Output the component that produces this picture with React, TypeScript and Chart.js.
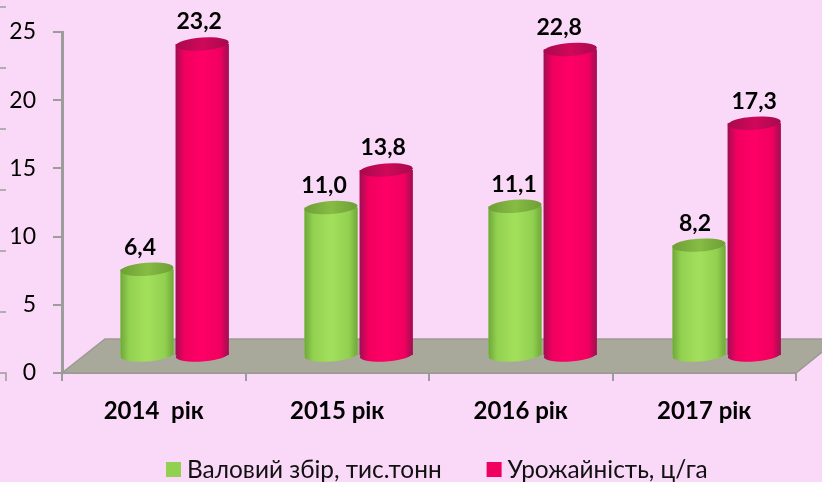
import React, { useEffect, useRef } from "react";
import { Chart, registerables } from "chart.js";

Chart.register(...registerables);

const categories = ["2014  рік", "2015 рік", "2016 рік", "2017 рік"];
const grossHarvest = [6.4, 11.0, 11.1, 8.2];
const yieldPerHa = [23.2, 13.8, 22.8, 17.3];
const seriesNames = ["Валовий збір, тис.тонн", "Урожайність, ц/га"];

const FONT = "Lato, 'Open Sans', sans-serif";
const BG = "#F9D9F7";
const AXIS = "#9C9C9C";

type Shade = { dark: string; mid: string; light: string; cap: string; capDark: string };
const GREEN: Shade = { dark: "#6FA83A", mid: "#92D050", light: "#A2E05C", cap: "#86BC44", capDark: "#6F9E36" };
const RED: Shade = { dark: "#9E0F52", mid: "#F0005F", light: "#FF0066", cap: "#D0085A", capDark: "#A80A4E" };
const shades = [GREEN, RED];

const RY = 6.5;
const TILT = -0.07;
const LABEL_DX = [
  [-7, -7, -1, -4],
  [-3, -3, -11, 0],
];

const bodyGradient = (ctx: any, x: number, w: number, s: Shade) => {
  const g = ctx.createLinearGradient(x - w / 2, 0, x + w / 2, 0);
  g.addColorStop(0, s.dark);
  g.addColorStop(0.16, s.mid);
  g.addColorStop(0.5, s.light);
  g.addColorStop(0.84, s.mid);
  g.addColorStop(1, s.dark);
  return g;
};

const scene = {
  id: "scene",
  beforeDatasetsDraw(chart: any) {
    const { ctx } = chart;
    const xs = chart.scales.x;
    const y0 = chart.scales.y.getPixelForValue(0);
    const back = 34;
    ctx.save();
    ctx.fillStyle = "#A9A99B";
    ctx.strokeStyle = "#9A9A92";
    ctx.lineWidth = 1.5;
    ctx.beginPath();
    ctx.moveTo(xs.left, y0);
    ctx.lineTo(xs.right, y0);
    ctx.lineTo(xs.right + 42, y0 - back);
    ctx.lineTo(xs.left + 43, y0 - back);
    ctx.closePath();
    ctx.fill();
    ctx.stroke();
    // leftover tick marks at the far left edge of the picture
    ctx.strokeStyle = AXIS;
    ctx.lineWidth = 1.5;
    for (let i = 0; i <= 6; i++) {
      const yy = y0 - i * 61;
      ctx.beginPath();
      ctx.moveTo(0, yy);
      ctx.lineTo(6, yy);
      if (i === 0) ctx.lineTo(6, yy + 8);
      ctx.stroke();
    }
    ctx.restore();
  },
  afterDatasetDraw(chart: any, args: any) {
    const { ctx } = chart;
    const meta = chart.getDatasetMeta(args.index);
    const s = shades[args.index];
    meta.data.forEach((bar: any) => {
      const p = bar.getProps(["x", "y", "base", "width"], true);
      ctx.save();
      ctx.fillStyle = bodyGradient(ctx, p.x, p.width, s);
      ctx.beginPath();
      ctx.ellipse(p.x, p.base, p.width / 2, RY, TILT, 0, Math.PI * 2);
      ctx.fill();
      ctx.fillRect(p.x - p.width / 2, p.y, p.width, p.base - p.y);
      ctx.beginPath();
      ctx.ellipse(p.x, p.y, p.width / 2, RY, TILT, 0, Math.PI);
      ctx.fill();
      const c = ctx.createLinearGradient(p.x - p.width / 2, 0, p.x + p.width / 2, 0);
      c.addColorStop(0, s.capDark);
      c.addColorStop(0.5, s.cap);
      c.addColorStop(1, s.capDark);
      ctx.fillStyle = c;
      ctx.beginPath();
      ctx.ellipse(p.x, p.y, p.width / 2, RY, TILT, 0, Math.PI * 2);
      ctx.fill();
      ctx.restore();
    });
  },
  afterDraw(chart: any) {
    const { ctx } = chart;
    // value labels, on top of every bar
    chart.data.datasets.forEach((d: any, di: number) => {
      chart.getDatasetMeta(di).data.forEach((bar: any, i: number) => {
        const p = bar.getProps(["x", "y"], true);
        ctx.save();
        ctx.fillStyle = "#000";
        ctx.font = `bold 23px ${FONT}`;
        ctx.textAlign = "center";
        ctx.textBaseline = "middle";
        ctx.fillText(d.data[i].y.toFixed(1).replace(".", ","), p.x + LABEL_DX[di][i], p.y - 22);
        ctx.restore();
      });
    });
    // legend
    ctx.save();
    ctx.font = `24.4px ${FONT}`;
    ctx.textBaseline = "middle";
    ctx.textAlign = "left";
    let x = 166;
    seriesNames.forEach((name, i) => {
      ctx.fillStyle = shades[i].mid;
      ctx.fillRect(x, 462, 15, 15);
      ctx.fillStyle = "#111";
      const w = ctx.measureText(name).width;
      ctx.fillText(name, x + 21, 470);
      x += 21 + w + 45;
    });
    ctx.restore();
  },
};

export default function App() {
  const ref = useRef<HTMLCanvasElement>(null);
  useEffect(() => {
    document.body.style.margin = "0";
    document.body.style.background = BG;
    const chart = new Chart(ref.current!, {
      type: "bar",
      plugins: [scene],
      data: {
        labels: categories,
        datasets: [
          {
            label: seriesNames[0],
            data: grossHarvest.map((y, x) => ({ x, y })),
            xAxisID: "xBars",
            yAxisID: "yBars",
            backgroundColor: GREEN.mid,
          },
          {
            label: seriesNames[1],
            data: yieldPerHa.map((y, x) => ({ x, y })),
            xAxisID: "xBars",
            yAxisID: "yBars",
            backgroundColor: RED.mid,
          },
        ] as any,
      },
      options: {
        responsive: false,
        animation: false,
        layout: { padding: { top: 32, right: 26, left: 0, bottom: 41 } },
        datasets: { bar: { categoryPercentage: 0.6, barPercentage: 0.96 } },
        scales: {
          x: {
            type: "category",
            offset: true,
            grid: { display: true, drawOnChartArea: false, color: AXIS, lineWidth: 2, tickLength: 8, offset: true },
            border: { color: AXIS, width: 2 },
            ticks: { color: "#000", font: { family: FONT, size: 24, weight: "bold" }, padding: 16, maxRotation: 0 },
            afterFit: (s: any) => { s.height = 68; },
          },
          y: {
            min: 0,
            max: 25,
            grid: { display: true, drawOnChartArea: false, color: AXIS, lineWidth: 2, tickLength: 9 },
            border: { color: AXIS, width: 3 },
            ticks: { stepSize: 5, color: "#000", font: { family: FONT, size: 23 }, padding: 17 },
            afterFit: (s: any) => { s.width = 62; },
          },
          xBars: {
            type: "linear",
            display: false,
            offset: false,
            min: -0.612,
            max: 3.377,
            afterBuildTicks: (s: any) => { s.ticks = s.ticks.filter((t: any) => Number.isInteger(t.value)); },
            ticks: { stepSize: 1 },
          },
          yBars: {
            type: "linear",
            display: false,
            min: -1.34,
            max: 24.1,
          },
        } as any,
        plugins: {
          tooltip: { enabled: false },
          legend: { display: false },
        },
      },
    } as any);
    return () => chart.destroy();
  }, []);
  return <canvas ref={ref} width={822} height={482} style={{ display: "block" }} />;
}
